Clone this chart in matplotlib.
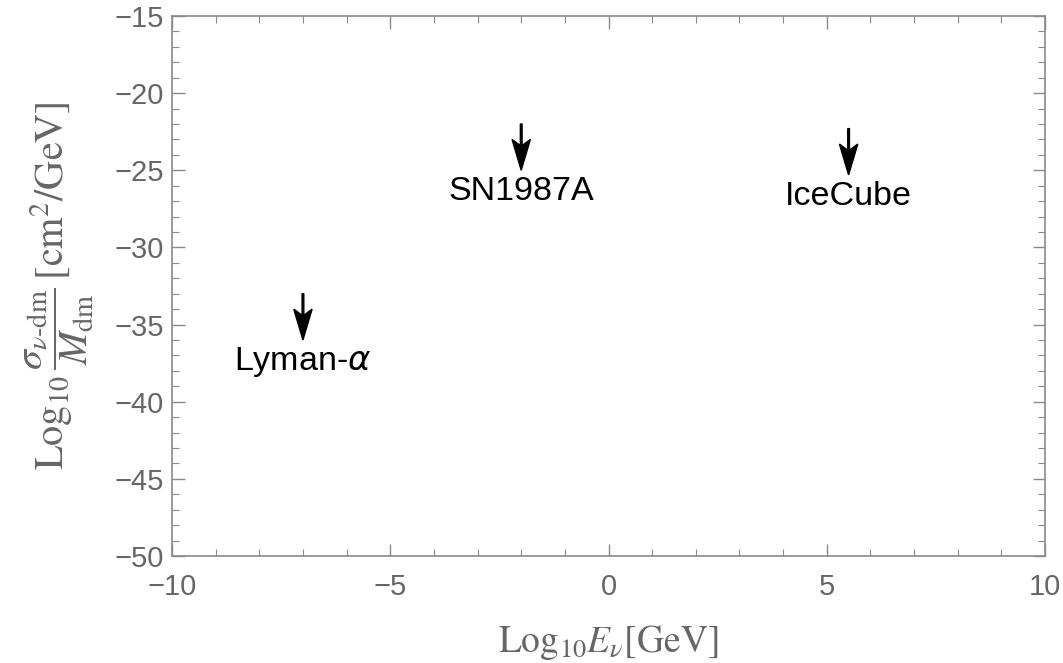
import matplotlib
matplotlib.use('Agg')
import matplotlib.pyplot as plt
from matplotlib.ticker import MultipleLocator

# constraints: experiment, log10 E_nu [GeV], upper limit on log10 sigma/M
labels = ['Lyman-$\\alpha$', 'SN1987A', 'IceCube']
log_energy = [-7.0, -2.0, 5.5]
log_sigma = [-36.0, -25.0, -25.3]

plt.rcParams['font.family'] = ['Liberation Sans', 'DejaVu Sans']
plt.rcParams['mathtext.fontset'] = 'stix'

text_gray = '#666666'
line_gray = '#8a8a8a'

fig = plt.figure(figsize=(10.63, 6.63), dpi=100)
ax = fig.add_axes([0.1618, 0.1614, 0.8213, 0.8145])

ax.set_xlim(-10, 10)
ax.set_ylim(-50, -15)

arrow_len = 3.0
for name, x, y in zip(labels, log_energy, log_sigma):
    ax.arrow(x, y + arrow_len, 0, -arrow_len, length_includes_head=True,
             width=0.04, head_width=0.42, head_length=2.0, overhang=0.2,
             color='black')
    ax.text(x, y - 1.4, name, ha='center', va='center', fontsize=24.5,
            color='black', math_fontfamily='dejavusans')

for s in ax.spines.values():
    s.set_color(line_gray)
    s.set_linewidth(1.2)

ax.xaxis.set_major_locator(MultipleLocator(5))
ax.xaxis.set_minor_locator(MultipleLocator(1))
ax.yaxis.set_major_locator(MultipleLocator(5))
ax.yaxis.set_minor_locator(MultipleLocator(1))
ax.tick_params(which='both', direction='in', top=True, right=True,
               color=line_gray, labelcolor=text_gray, labelsize=21)
ax.tick_params(which='major', length=9, width=1.0, pad=6)
ax.tick_params(which='minor', length=5, width=0.8)
ax.tick_params(axis='x', which='major', pad=12)

ax.set_xlabel(r'$\mathrm{Log}_{10}E_{\nu}[\mathrm{GeV}]$', fontsize=27,
              color=text_gray, labelpad=16)
ax.set_ylabel(r'$\mathrm{Log}_{10}\,\dfrac{\sigma_{\nu\text{-dm}}}{M_{\mathrm{dm}}}\,[\mathrm{cm}^2/\mathrm{GeV}]$',
              fontsize=29, color=text_gray, labelpad=13)

plt.savefig('out.png', dpi=100)
